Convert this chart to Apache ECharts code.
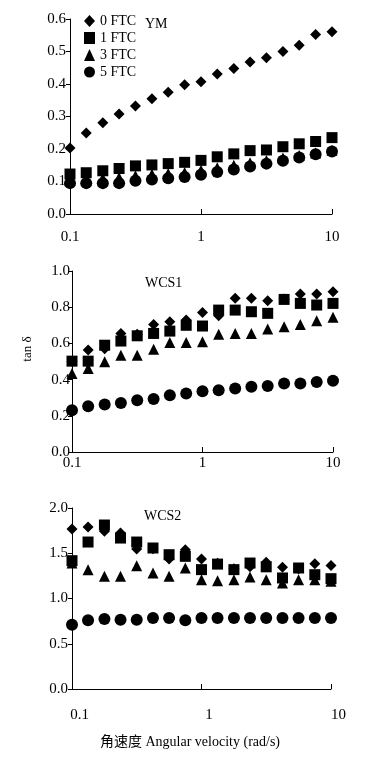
<!DOCTYPE html>
<html>
<head>
<meta charset="utf-8">
<script src="https://cdn.jsdelivr.net/npm/echarts@6/dist/echarts.min.js"></script>
<style>
html,body{margin:0;padding:0;background:#fff;}
#c{width:367px;height:759px;}
</style>
</head>
<body>
<div id="c"></div>
<script>
// Angular velocity (rad/s)
var xVals = [0.1, 0.133, 0.178, 0.237, 0.316, 0.422, 0.562, 0.75, 1, 1.33, 1.78, 2.37, 3.16, 4.22, 5.62, 7.5, 10];
var seriesNames = ['0 FTC', '1 FTC', '3 FTC', '5 FTC'];
var panelTitles = ['YM', 'WCS1', 'WCS2'];
var xTickLabels = ['0.1', '1', '10'];

// YM
var ym0 = [0.203, 0.249, 0.281, 0.308, 0.332, 0.355, 0.375, 0.398, 0.407, 0.431, 0.448, 0.468, 0.481, 0.500, 0.519, 0.552, 0.561];
var ym1 = [0.123, 0.127, 0.133, 0.140, 0.148, 0.151, 0.155, 0.159, 0.165, 0.176, 0.185, 0.195, 0.197, 0.207, 0.216, 0.223, 0.235];
var ym3 = [0.105, 0.108, 0.110, 0.112, 0.118, 0.122, 0.125, 0.128, 0.135, 0.142, 0.150, 0.158, 0.165, 0.172, 0.180, 0.188, 0.196];
var ym5 = [0.095, 0.095, 0.095, 0.095, 0.102, 0.106, 0.110, 0.114, 0.121, 0.129, 0.137, 0.146, 0.155, 0.164, 0.174, 0.184, 0.192];

// WCS1
var wcs1_0 = [0.500, 0.563, 0.570, 0.655, 0.650, 0.705, 0.719, 0.729, 0.771, 0.753, 0.849, 0.849, 0.836, 0.845, 0.873, 0.873, 0.885];
var wcs1_1 = [0.502, 0.502, 0.590, 0.613, 0.642, 0.655, 0.668, 0.700, 0.696, 0.784, 0.784, 0.775, 0.766, 0.843, 0.821, 0.812, 0.821];
var wcs1_3 = [0.434, 0.461, 0.498, 0.535, 0.535, 0.568, 0.605, 0.605, 0.609, 0.650, 0.655, 0.655, 0.679, 0.692, 0.705, 0.725, 0.744];
var wcs1_5 = [0.231, 0.253, 0.262, 0.271, 0.286, 0.293, 0.314, 0.323, 0.336, 0.341, 0.351, 0.360, 0.365, 0.378, 0.378, 0.387, 0.393];

// WCS2
var wcs2_0 = [1.768, 1.790, 1.742, 1.724, 1.547, 1.550, 1.436, 1.540, 1.436, 1.390, 1.330, 1.350, 1.400, 1.344, 1.330, 1.385, 1.366];
var wcs2_1 = [1.418, 1.624, 1.812, 1.668, 1.624, 1.558, 1.484, 1.466, 1.319, 1.380, 1.319, 1.392, 1.350, 1.227, 1.337, 1.263, 1.219];
var wcs2_3 = [1.392, 1.319, 1.245, 1.245, 1.363, 1.282, 1.245, 1.337, 1.208, 1.197, 1.208, 1.238, 1.208, 1.170, 1.208, 1.208, 1.190];
var wcs2_5 = [0.711, 0.759, 0.773, 0.766, 0.766, 0.785, 0.785, 0.759, 0.785, 0.785, 0.785, 0.785, 0.785, 0.785, 0.785, 0.785, 0.785];

var yRanges = [[0, 0.6, 0.1], [0, 1.0, 0.2], [0, 2.0, 0.5]];
var yDecimals = [1, 1, 1];

var panels = [[ym0, ym1, ym3, ym5], [wcs1_0, wcs1_1, wcs1_3, wcs1_5], [wcs2_0, wcs2_1, wcs2_3, wcs2_5]];

var FONT = '"Liberation Serif", "Times New Roman", "Noto Sans CJK SC", serif';
var symbols = ['diamond', 'rect', 'triangle', 'circle'];
var symbolSizes = [11, 11, 11, 12];

var grids = [
  {left: 70, right: 35, top: 19, height: 195},
  {left: 72, right: 34, top: 271, height: 181},
  {left: 72, right: 36, top: 508, height: 181}
];
var xLabelMargin = [16, 4, 19];
var xLabelPad = [[0,0,0,0], [0,0,0,0], [0,0,0,15]];
var yLabelMargin = [4, 2, 4];

function zip(xs, ys) {
  var out = [];
  for (var i = 0; i < xs.length; i++) out.push([xs[i], ys[i]]);
  return out;
}

var xAxes = [], yAxes = [], series = [];
for (var p = 0; p < 3; p++) {
  xAxes.push({
    type: 'log', logBase: 10, gridIndex: p, min: 0.1, max: 10,
    axisLine: {lineStyle: {color: '#000', width: 1}},
    axisTick: {inside: true, length: 5, lineStyle: {color: '#000'}},
    splitLine: {show: false},
    minorTick: {show: false},
    axisLabel: {
      color: '#000', fontFamily: FONT, fontSize: 15, margin: xLabelMargin[p], padding: xLabelPad[p],
      formatter: function (v) {
        var s = String(+v.toPrecision(3));
        return xTickLabels.indexOf(s) >= 0 ? s : '';
      }
    }
  });
  yAxes.push({
    type: 'value', gridIndex: p, min: yRanges[p][0], max: yRanges[p][1], interval: yRanges[p][2],
    axisLine: {show: true, lineStyle: {color: '#000', width: 1}},
    axisTick: {show: true, inside: false, length: 4, lineStyle: {color: '#000'}},
    splitLine: {show: false},
    axisLabel: {
      color: '#000', fontFamily: FONT, fontSize: 15, margin: yLabelMargin[p],
      formatter: (function (d) { return function (v) { return v.toFixed(d); }; })(yDecimals[p])
    }
  });
  for (var s = 0; s < 4; s++) {
    series.push({
      type: 'scatter', name: seriesNames[s], xAxisIndex: p, yAxisIndex: p,
      symbol: symbols[s], symbolSize: symbolSizes[s],
      itemStyle: {color: '#000', opacity: 1},
      emphasis: {disabled: true},
      z: 2 + (s === 3 ? 2 : (s === 2 ? 0 : 1)),
      data: zip(xVals, panels[p][s])
    });
  }
}

var titleTops = [17, 276, 509];
var titleLefts = [145, 145, 144];
var titles = panelTitles.map(function (t, i) {
  return {text: t, left: titleLefts[i], top: titleTops[i], padding: 0,
    textStyle: {fontFamily: FONT, fontSize: 14, fontWeight: 'normal', color: '#000'}};
});

var chart = echarts.init(document.getElementById('c'), null, {renderer: 'canvas'});
chart.setOption({
  animation: false,
  backgroundColor: '#fff',
  title: titles,
  legend: {
    orient: 'vertical', left: 84, top: 14, padding: 0, itemGap: 3, itemWidth: 11, itemHeight: 12,
    data: seriesNames.map(function (n, i) { return {name: n, icon: symbols[i]}; }),
    textStyle: {fontFamily: FONT, fontSize: 14, color: '#000'},
    selectedMode: false
  },
  grid: grids,
  xAxis: xAxes,
  yAxis: yAxes,
  series: series,
  graphic: [
    {type: 'text', x: 28, y: 349, rotation: Math.PI / 2,
      style: {text: 'tan δ', font: '13px ' + FONT, fill: '#000', textAlign: 'center', textVerticalAlign: 'middle'}},
    {type: 'text', x: 190, y: 742,
      style: {text: '角速度 Angular velocity (rad/s)', font: '14px ' + FONT, fill: '#000', textAlign: 'center', textVerticalAlign: 'middle'}}
  ]
});
</script>
</body>
</html>
